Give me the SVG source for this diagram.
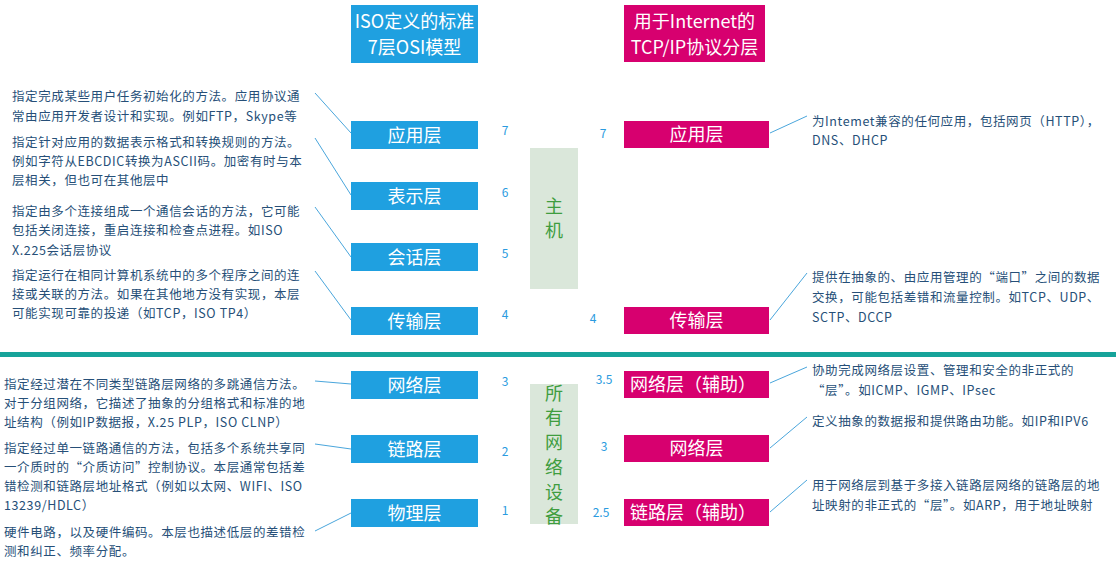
<svg xmlns="http://www.w3.org/2000/svg" width="1116" height="562" viewBox="0 0 1116 562">
<style>
.desc{font-family:"Noto Sans CJK SC","Noto Sans",sans-serif;font-size:12.5px;fill:#264f78;letter-spacing:0.6px}
.lbl{font-family:"Noto Sans CJK SC","Noto Sans",sans-serif;font-size:18px;fill:#ffffff;text-anchor:middle}
.num{font-family:"Noto Sans CJK SC","Noto Sans",sans-serif;font-size:12px;fill:#2a9be0;text-anchor:middle}
.grn{font-family:"Noto Sans CJK SC","Noto Sans",sans-serif;font-size:18px;fill:#3f9d3f;text-anchor:middle}
.blue{fill:#1fa0e0}
.pink{fill:#d7006f}
.gbox{fill:#dae7da}
.conn line{stroke:#4aa6dc;stroke-width:1}
</style>
<rect width="1116" height="562" fill="#ffffff"/>
<rect id="divider" x="0" y="352" width="1116" height="5" fill="#16a39a"/>

<g id="header-osi">
<rect class="blue" x="351" y="5" width="127" height="58"/>
<text class="lbl" x="414.5" y="27.5">ISO定义的标准</text>
<text class="lbl" x="414.5" y="53.5">7层OSI模型</text>
</g>
<g id="header-tcpip">
<rect class="pink" x="624" y="5" width="141" height="57"/>
<text class="lbl" x="694.5" y="27.5">用于Internet的</text>
<text class="lbl" x="694.5" y="53.5">TCP/IP协议分层</text>
</g>

<g id="host">
<rect class="gbox" x="530" y="148" width="48" height="141"/>
<text class="grn" x="554" y="213">主</text>
<text class="grn" x="554" y="236.5">机</text>
</g>
<g id="network-devices">
<rect class="gbox" x="530" y="384" width="48" height="140"/>
<text class="grn" x="554" y="399.5">所</text>
<text class="grn" x="554" y="424">有</text>
<text class="grn" x="554" y="448.5">网</text>
<text class="grn" x="554" y="473.5">络</text>
<text class="grn" x="554" y="498.5">设</text>
<text class="grn" x="554" y="523">备</text>
</g>

<g class="conn" id="connectors">
<line x1="315" y1="93" x2="351" y2="133"/>
<line x1="315" y1="138" x2="351" y2="195"/>
<line x1="315" y1="207" x2="351" y2="257"/>
<line x1="315" y1="271" x2="351" y2="320"/>
<line x1="315" y1="381" x2="351" y2="384"/>
<line x1="315" y1="444" x2="351" y2="449"/>
<line x1="315" y1="531" x2="351" y2="513"/>
<line x1="770" y1="133" x2="807" y2="116"/>
<line x1="770" y1="320" x2="807" y2="273"/>
<line x1="770" y1="383" x2="807" y2="367"/>
<line x1="770" y1="448" x2="807" y2="417"/>
<line x1="770" y1="512" x2="807" y2="480"/>
</g>

<g id="osi-7">
<rect class="blue" x="351" y="121" width="127" height="28"/>
<text class="lbl" x="414.5" y="141.5">应用层</text>
<text class="num" x="505" y="134.5">7</text>
<text class="desc" x="12" y="100.5">指定完成某些用户任务初始化的方法。应用协议通</text>
<text class="desc" x="12" y="121">常由应用开发者设计和实现。例如FTP，Skype等</text>
</g>
<g id="osi-6">
<rect class="blue" x="351" y="182" width="127" height="28"/>
<text class="lbl" x="414.5" y="202.5">表示层</text>
<text class="num" x="505" y="197">6</text>
<text class="desc" x="12" y="147">指定针对应用的数据表示格式和转换规则的方法。</text>
<text class="desc" x="12" y="166">例如字符从EBCDIC转换为ASCII码。加密有时与本</text>
<text class="desc" x="12" y="185">层相关，但也可在其他层中</text>
</g>
<g id="osi-5">
<rect class="blue" x="351" y="243" width="127" height="28"/>
<text class="lbl" x="414.5" y="263.5">会话层</text>
<text class="num" x="505" y="257.5">5</text>
<text class="desc" x="12" y="215.5">指定由多个连接组成一个通信会话的方法，它可能</text>
<text class="desc" x="12" y="235">包括关闭连接，重启连接和检查点进程。如ISO</text>
<text class="desc" x="12" y="254.5">X.225会话层协议</text>
</g>
<g id="osi-4">
<rect class="blue" x="351" y="307" width="127" height="28"/>
<text class="lbl" x="414.5" y="327.5">传输层</text>
<text class="num" x="505" y="318.5">4</text>
<text class="desc" x="12" y="279.5">指定运行在相同计算机系统中的多个程序之间的连</text>
<text class="desc" x="12" y="298.5">接或关联的方法。如果在其他地方没有实现，本层</text>
<text class="desc" x="12" y="317.5">可能实现可靠的投递（如TCP，ISO TP4）</text>
</g>
<g id="osi-3">
<rect class="blue" x="351" y="371" width="127" height="28"/>
<text class="lbl" x="414.5" y="391.5">网络层</text>
<text class="num" x="505" y="386">3</text>
<text class="desc" x="4" y="389">指定经过潜在不同类型链路层网络的多跳通信方法。</text>
<text class="desc" x="4" y="408">对于分组网络，它描述了抽象的分组格式和标准的地</text>
<text class="desc" x="4" y="426.5">址结构（例如IP数据报，X.25 PLP，ISO CLNP）</text>
</g>
<g id="osi-2">
<rect class="blue" x="351" y="435" width="127" height="28"/>
<text class="lbl" x="414.5" y="455.5">链路层</text>
<text class="num" x="505" y="456">2</text>
<text class="desc" x="4" y="453">指定经过单一链路通信的方法，包括多个系统共享同</text>
<text class="desc" x="4" y="471.5">一介质时的“介质访问”控制协议。本层通常包括差</text>
<text class="desc" x="4" y="490.5">错检测和链路层地址格式（例如以太网、WIFI、ISO</text>
<text class="desc" x="4" y="509.5">13239/HDLC）</text>
</g>
<g id="osi-1">
<rect class="blue" x="351" y="499" width="127" height="28"/>
<text class="lbl" x="414.5" y="519.5">物理层</text>
<text class="num" x="505" y="514.5">1</text>
<text class="desc" x="4" y="537">硬件电路，以及硬件编码。本层也描述低层的差错检</text>
<text class="desc" x="4" y="556">测和纠正、频率分配。</text>
</g>

<g id="tcp-7">
<rect class="pink" x="624" y="121" width="145" height="27"/>
<text class="lbl" x="696.5" y="141">应用层</text>
<text class="num" x="603" y="137.5">7</text>
<text class="desc" x="812" y="126">为Intemet兼容的任何应用，包括网页（HTTP），</text>
<text class="desc" x="812" y="145">DNS、DHCP</text>
</g>
<g id="tcp-4">
<rect class="pink" x="624" y="307" width="145" height="27"/>
<text class="lbl" x="696.5" y="327">传输层</text>
<text class="num" x="593" y="322.5">4</text>
<text class="desc" x="812" y="281.5">提供在抽象的、由应用管理的“端口”之间的数据</text>
<text class="desc" x="812" y="302">交换，可能包括差错和流量控制。如TCP、UDP、</text>
<text class="desc" x="812" y="322">SCTP、DCCP</text>
</g>
<g id="tcp-3-5">
<rect class="pink" x="624" y="371" width="145" height="27"/>
<text class="lbl" x="693" y="391">网络层（辅助）</text>
<text class="num" x="604" y="383.5">3.5</text>
<text class="desc" x="812" y="375">协助完成网络层设置、管理和安全的非正式的</text>
<text class="desc" x="812" y="394.5">“层”。如ICMP、IGMP、IPsec</text>
</g>
<g id="tcp-3">
<rect class="pink" x="624" y="435" width="145" height="27"/>
<text class="lbl" x="696.5" y="455">网络层</text>
<text class="num" x="604" y="450.5">3</text>
<text class="desc" x="812" y="426">定义抽象的数据报和提供路由功能。如IP和IPV6</text>
</g>
<g id="tcp-2-5">
<rect class="pink" x="624" y="499" width="145" height="27"/>
<text class="lbl" x="693" y="519">链路层（辅助）</text>
<text class="num" x="601" y="517">2.5</text>
<text class="desc" x="812" y="490">用于网络层到基于多接入链路层网络的链路层的地</text>
<text class="desc" x="812" y="509.5">址映射的非正式的“层”。如ARP，用于地址映射</text>
</g>
</svg>
